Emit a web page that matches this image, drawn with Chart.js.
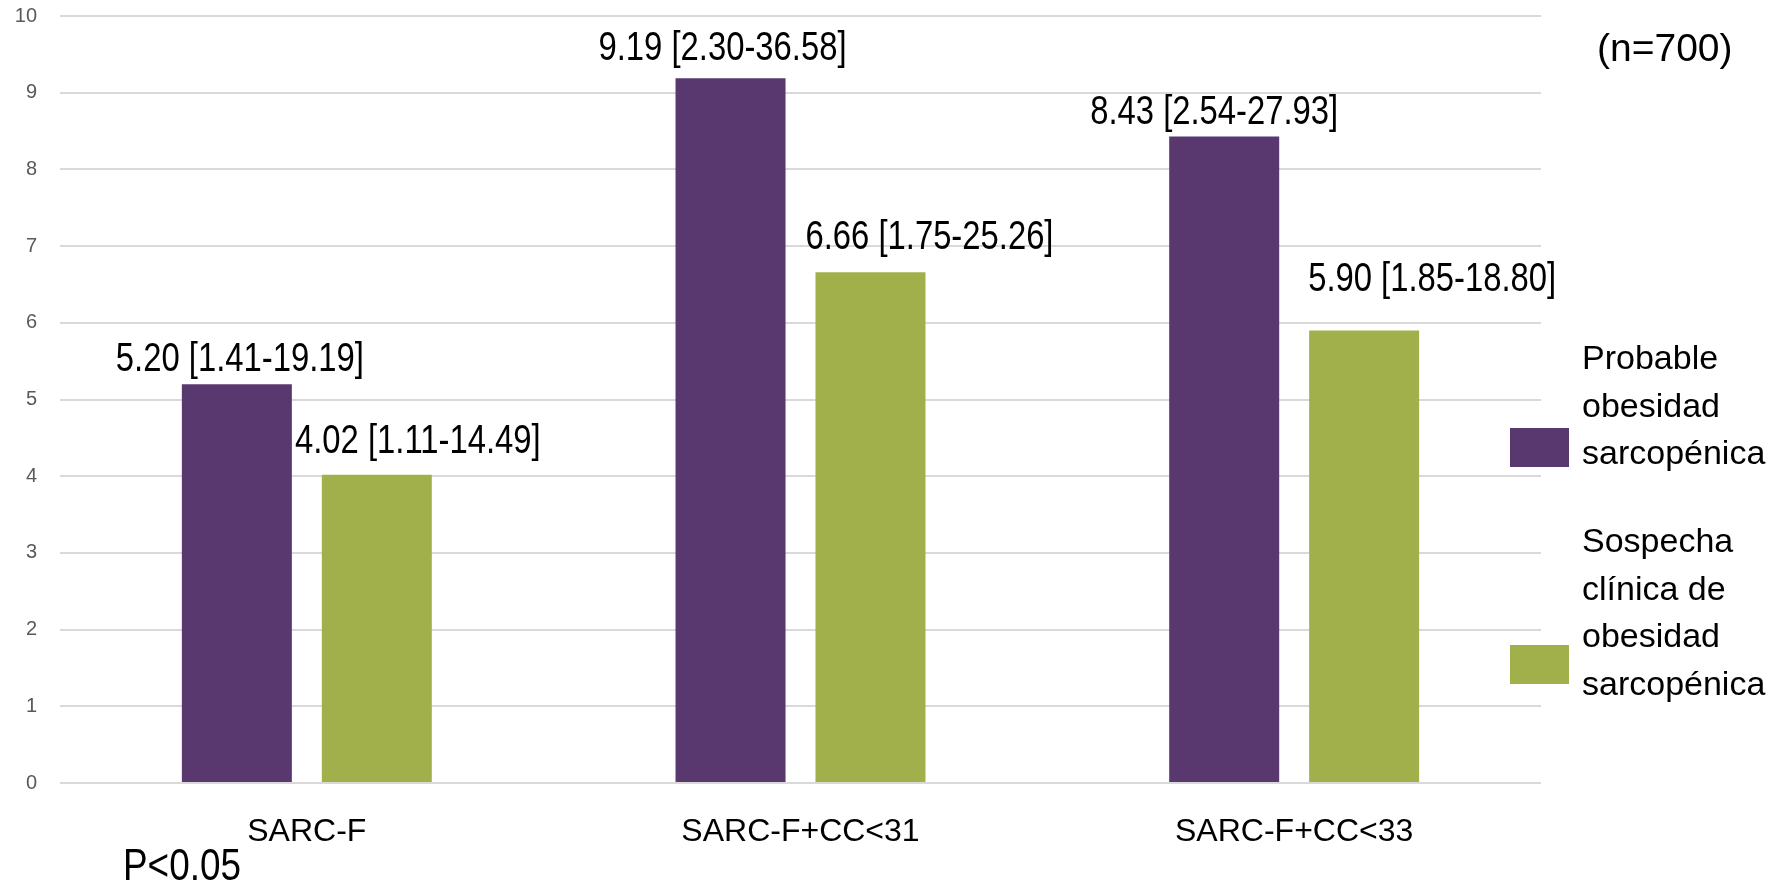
<!DOCTYPE html>
<html>
<head>
<meta charset="utf-8">
<script src="https://cdn.jsdelivr.net/npm/chart.js@4.4.1/dist/chart.umd.min.js"></script>
<style>
  html, body { margin: 0; padding: 0; background: #ffffff; }
  canvas { display: block; }
</style>
</head>
<body>
<canvas id="chart" width="1773" height="887"></canvas>
<script>
// Odds ratios with 95% CI per screening criterion
const categories = ['SARC-F', 'SARC-F+CC<31', 'SARC-F+CC<33'];

const probableName = ['Probable', 'obesidad', 'sarcopénica'];
const probableValues = [5.20, 9.19, 8.43];
const probableLow = [1.41, 2.30, 2.54];
const probableHigh = [19.19, 36.58, 27.93];

const sospechaName = ['Sospecha', 'clínica de', 'obesidad', 'sarcopénica'];
const sospechaValues = [4.02, 6.66, 5.90];
const sospechaLow = [1.11, 1.75, 1.85];
const sospechaHigh = [14.49, 25.26, 18.80];

const yTickValues = [0, 1, 2, 3, 4, 5, 6, 7, 8, 9, 10];

const sampleNote = '(n=700)';
const pNote = 'P<0.05';

const SANS = '"Liberation Sans", Arial, sans-serif';

const PURPLE = '#58386F';
const GREEN = '#A1B04A';

const fmt = v => v.toFixed(2);

// draws text squeezed horizontally (narrow lettering)
function narrowText(ctx, txt, x, y, squeeze) {
  ctx.save();
  ctx.translate(x, y);
  ctx.scale(squeeze, 1);
  ctx.fillText(txt, 0, 0);
  ctx.restore();
}

// Value labels, right-hand legend and free-standing notes
const annotations = {
  id: 'annotations',
  afterDatasetsDraw(chart, args, opts) {
    const ctx = chart.ctx;
    ctx.save();

    // value + CI labels above each bar
    ctx.fillStyle = '#000000';
    ctx.textAlign = 'center';
    ctx.textBaseline = 'middle';
    ctx.font = opts.labelFont;
    chart.data.datasets.forEach((ds, di) => {
      const meta = chart.getDatasetMeta(di);
      meta.data.forEach((bar, i) => {
        const txt = `${fmt(ds.data[i])} [${fmt(ds.ciLow[i])}-${fmt(ds.ciHigh[i])}]`;
        const [dx, dy] = opts.nudge[di][i];
        narrowText(ctx, txt, bar.x + dx, bar.y + dy, opts.squeeze);
      });
    });

    // legend
    const lg = opts.legend;
    chart.data.datasets.forEach((ds, di) => {
      ctx.fillStyle = ds.backgroundColor;
      ctx.fillRect(lg.boxX, lg.boxTop[di], lg.boxW, lg.boxH);
      ctx.fillStyle = '#000000';
      ctx.font = lg.font;
      ctx.textAlign = 'left';
      ctx.textBaseline = 'alphabetic';
      ds.lines.forEach((line, k) => {
        ctx.fillText(line, lg.textX, lg.firstBaseline[di] + k * lg.lineHeight);
      });
    });

    // notes
    ctx.fillStyle = '#000000';
    ctx.textBaseline = 'middle';
    ctx.textAlign = 'left';
    ctx.font = opts.sampleFont;
    ctx.fillText(sampleNote, opts.samplePos[0], opts.samplePos[1]);
    ctx.font = opts.pFont;
    narrowText(ctx, pNote, opts.pPos[0], opts.pPos[1], opts.squeeze);

    ctx.restore();
  }
};

new Chart(document.getElementById('chart'), {
  type: 'bar',
  data: {
    labels: categories,
    datasets: [
      {
        label: probableName.join(' '),
        lines: probableName,
        data: probableValues,
        ciLow: probableLow,
        ciHigh: probableHigh,
        backgroundColor: PURPLE
      },
      {
        label: sospechaName.join(' '),
        lines: sospechaName,
        data: sospechaValues,
        ciLow: sospechaLow,
        ciHigh: sospechaHigh,
        backgroundColor: GREEN
      }
    ]
  },
  options: {
    responsive: false,
    animation: false,
    events: [],
    categoryPercentage: 0.567,
    barPercentage: 0.786,
    layout: { padding: { top: 16, right: 232, bottom: 0, left: 0 } },
    scales: {
      x: {
        grid: { display: false },
        border: { display: false },
        ticks: {
          color: '#000000',
          font: { family: SANS, size: 32 },
          padding: 22
        },
        afterFit(scale) {
          scale.height = 104;
          scale.paddingLeft = 0;
          scale.paddingRight = 0;
        }
      },
      y: {
        min: 0,
        max: 10,
        afterBuildTicks(scale) { scale.ticks = yTickValues.map(v => ({ value: v })); },
        grid: { color: '#D9D9D9', lineWidth: 2, drawTicks: false },
        border: { display: false },
        ticks: {
          color: '#595959',
          font: { family: SANS, size: 20 },
          padding: 23
        },
        afterFit(scale) {
          scale.width = 60;
          scale.paddingTop = 0;
          scale.paddingBottom = 0;
        }
      }
    },
    plugins: {
      legend: { display: false },
      tooltip: { enabled: false },
      annotations: {
        labelFont: `40px ${SANS}`,
        squeeze: 0.82,
        nudge: [
          [[3, -24], [-8, -29], [-10, -23]],
          [[41, -33], [59, -34], [68, -51]]
        ],
        legend: {
          boxX: 1510, boxW: 59, boxH: 39,
          boxTop: [428, 645],
          textX: 1582,
          firstBaseline: [369, 552],
          lineHeight: 47.5,
          font: `34px ${SANS}`
        },
        sampleFont: `39px ${SANS}`,
        samplePos: [1597, 50],
        pFont: `45px ${SANS}`,
        pPos: [123, 868]
      }
    }
  },
  plugins: [annotations]
});
</script>
</body>
</html>
